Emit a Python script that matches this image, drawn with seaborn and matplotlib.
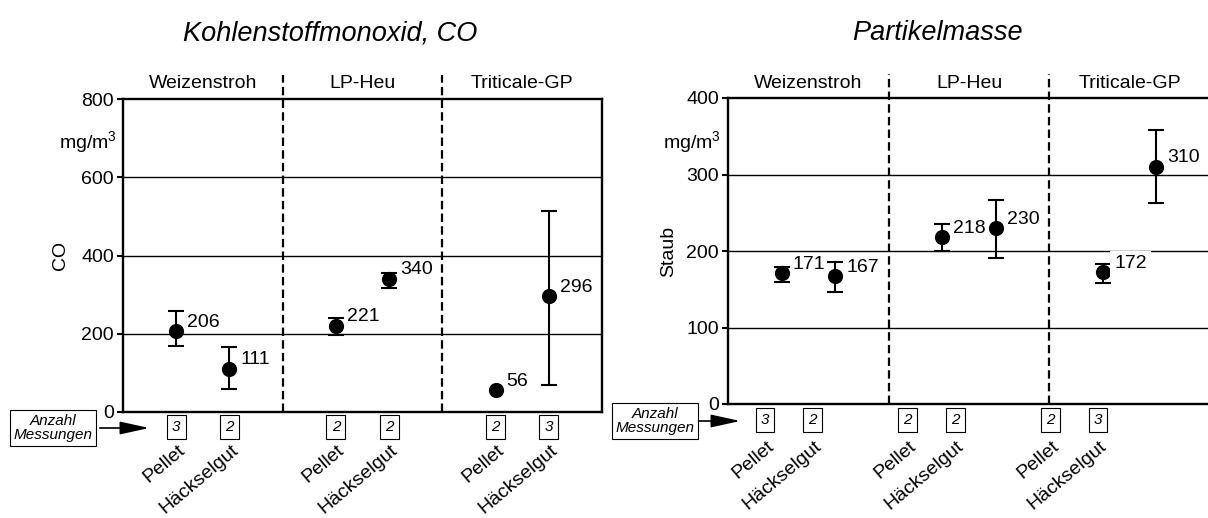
import numpy as np
import pandas as pd
import matplotlib
matplotlib.use("Agg")
import matplotlib.pyplot as plt
import seaborn as sns
from matplotlib.transforms import ScaledTranslation, blended_transform_factory

# ---------------- data ----------------
groups = ["Weizenstroh", "LP-Heu", "Triticale-GP"]
forms = ["Pellet", "Häckselgut"]

co_mean = [206, 111, 221, 340, 56, 296]
co_low = [168, 58, 198, 318, 56, 69]
co_high = [257, 165, 241, 355, 56, 515]
co_n = [3, 2, 2, 2, 2, 3]

pm_mean = [171, 167, 218, 230, 172, 310]
pm_low = [159, 147, 200, 191, 158, 263]
pm_high = [179, 186, 235, 267, 183, 358]
pm_n = [3, 2, 2, 2, 2, 3]

sns.set_theme(style="white")
plt.rcParams["font.family"] = ["Liberation Sans", "DejaVu Sans"]
plt.rcParams["mathtext.fontset"] = "custom"
plt.rcParams["mathtext.rm"] = "Liberation Sans"
plt.rcParams["mathtext.it"] = "Liberation Sans:italic"
for key in ("text.color", "axes.labelcolor", "xtick.color", "ytick.color",
            "axes.edgecolor"):
    plt.rcParams[key] = "black"

W, H = 1208, 518
fig = plt.figure(figsize=(W / 100, H / 100), dpi=100)


def make_df(mean, low, high, n):
    rows = []
    for gi, g in enumerate(groups):
        for fi, f in enumerate(forms):
            k = gi * 2 + fi
            rows.append(dict(group=g, form=f, slot=3 * gi + 1 + fi,
                             mean=mean[k], low=low[k], high=high[k], n=n[k]))
    return pd.DataFrame(rows)


def panel(rect, df, ymax, ystep, ylabel, title, title_xy, ylabel_x, unit_xy,
          bottom_xlim, box_offset, label_pad, knockout=(), ann_box=None):
    ax = fig.add_axes(rect)
    ax.set_xlim(0, 9)
    ax.set_ylim(0, ymax)
    # horizontal grid
    for v in range(ystep, ymax, ystep):
        ax.axhline(v, color="black", lw=1.0, zorder=1)
    # error bars
    eb = df[df["high"] > df["low"]]
    ax.errorbar(eb["slot"], eb["mean"],
                yerr=[eb["mean"] - eb["low"], eb["high"] - eb["mean"]],
                fmt="none", ecolor="black", elinewidth=1.5, capsize=5.5,
                capthick=1.5, zorder=3)
    sns.scatterplot(data=df, x="slot", y="mean", color="black", s=120,
                    linewidth=0, zorder=4, ax=ax, legend=False)
    # value labels
    for i, r in df.iterrows():
        kw = {}
        if i in knockout:
            kw["bbox"] = dict(boxstyle="square,pad=0.2", fc="white", ec="none")
        ax.annotate(f"{r['mean']}", (r["slot"], r["mean"]), xytext=(8, 6.5),
                    textcoords="offset points", ha="left", va="center",
                    fontsize=14, color="black", zorder=5, **kw)
    # dividers and section labels
    bt = blended_transform_factory(ax.transData, ax.transAxes)
    top_ext = 1 + 24 / (rect[3] * H)
    for gi in (1, 2):
        ax.plot([3 * gi, 3 * gi], [0, top_ext], transform=bt, color="black",
                lw=1.6, ls=(0, (3.8, 1.9)), clip_on=False, zorder=2)
    for gi, g in enumerate(groups):
        ax.text(3 * gi + 1.5, 1 + 15 / (rect[3] * H), g, transform=bt,
                ha="center", va="center", fontsize=14)
    # axes styling
    for s in ax.spines.values():
        s.set_linewidth(1.7)
        s.set_color("black")
        s.set_zorder(6)
    ax.set_yticks(range(0, ymax + 1, ystep))
    ax.tick_params(axis="y", direction="out", length=4.5, width=1.5,
                   labelsize=14, pad=2, left=True, colors="black")
    ax.set_xticks([])
    ax.set_xlabel("")
    ax.set_ylabel(ylabel, fontsize=14, color="black")
    ax.yaxis.set_label_coords(ylabel_x, 0.5)
    ax.text(unit_xy[0], unit_xy[1], r"mg/m$^{3}$", transform=ax.transAxes,
            ha="center", va="center", fontsize=14)
    # bottom annotation axis (counts + form labels)
    axb = ax.twiny()
    axb.set_xlim(*bottom_xlim)
    axb.xaxis.set_ticks_position("bottom")
    for s in axb.spines.values():
        s.set_visible(False)
    axb.set_xticks(df["slot"])
    axb.set_xticklabels(df["form"], rotation=40, ha="right", va="top",
                        rotation_mode="anchor", fontsize=14)
    axb.tick_params(axis="x", length=0, pad=label_pad, colors="black")
    off = ScaledTranslation(1 / 100, 0, fig.dpi_scale_trans)
    for lab in axb.get_xticklabels():
        lab.set_transform(lab.get_transform() + off)
    btb = blended_transform_factory(axb.transData, axb.transAxes)
    for _, r in df.iterrows():
        axb.annotate(str(r["n"]), (r["slot"], 0), xycoords=btb,
                     xytext=(0, -box_offset), textcoords="offset pixels",
                     ha="center", va="center", fontsize=11, style="italic",
                     bbox=dict(boxstyle="square,pad=0.34", fc="white",
                               ec="black", lw=0.8))
    # title
    fig.text(title_xy[0] / W, 1 - title_xy[1] / H, title, ha="center",
             va="baseline", fontsize=19.5, style="italic", color="black")
    # Anzahl Messungen box with arrow
    (tx, ty), (ax0, ax1) = ann_box
    fig.text(tx / W, 1 - ty / H, "Anzahl\nMessungen", ha="center", va="center",
             fontsize=11, style="italic", linespacing=1.0,
             bbox=dict(boxstyle="square,pad=0.25", fc="white", ec="black",
                       lw=0.8))
    fig.add_artist(matplotlib.patches.FancyArrowPatch(
        (ax0, H - ty), (ax1, H - ty), transform=None,
        arrowstyle="-|>,head_length=1.0,head_width=0.22", mutation_scale=18,
        color="black", lw=1.2))
    return ax


co_df = make_df(co_mean, co_low, co_high, co_n)
pm_df = make_df(pm_mean, pm_low, pm_high, pm_n)

panel([123 / W, 1 - 412 / H, 479 / W, 313 / H], co_df, 800, 200, "CO",
      "Kohlenstoffmonoxid, CO", (330, 40), -0.113, (-0.073, 0.863),
      (0, 9), 15, 21.5, ann_box=((53, 428), (97, 152)))
panel([728 / W, 1 - 404 / H, 482 / W, 306 / H], pm_df, 400, 100, "Staub",
      "Partikelmasse", (937, 40), -0.106, (-0.075, 0.856),
      (0.223, 10.355), 16, 24, knockout=(4,), ann_box=((655, 421), (693, 743)))

fig.savefig("out.png", dpi=100, facecolor="white")
